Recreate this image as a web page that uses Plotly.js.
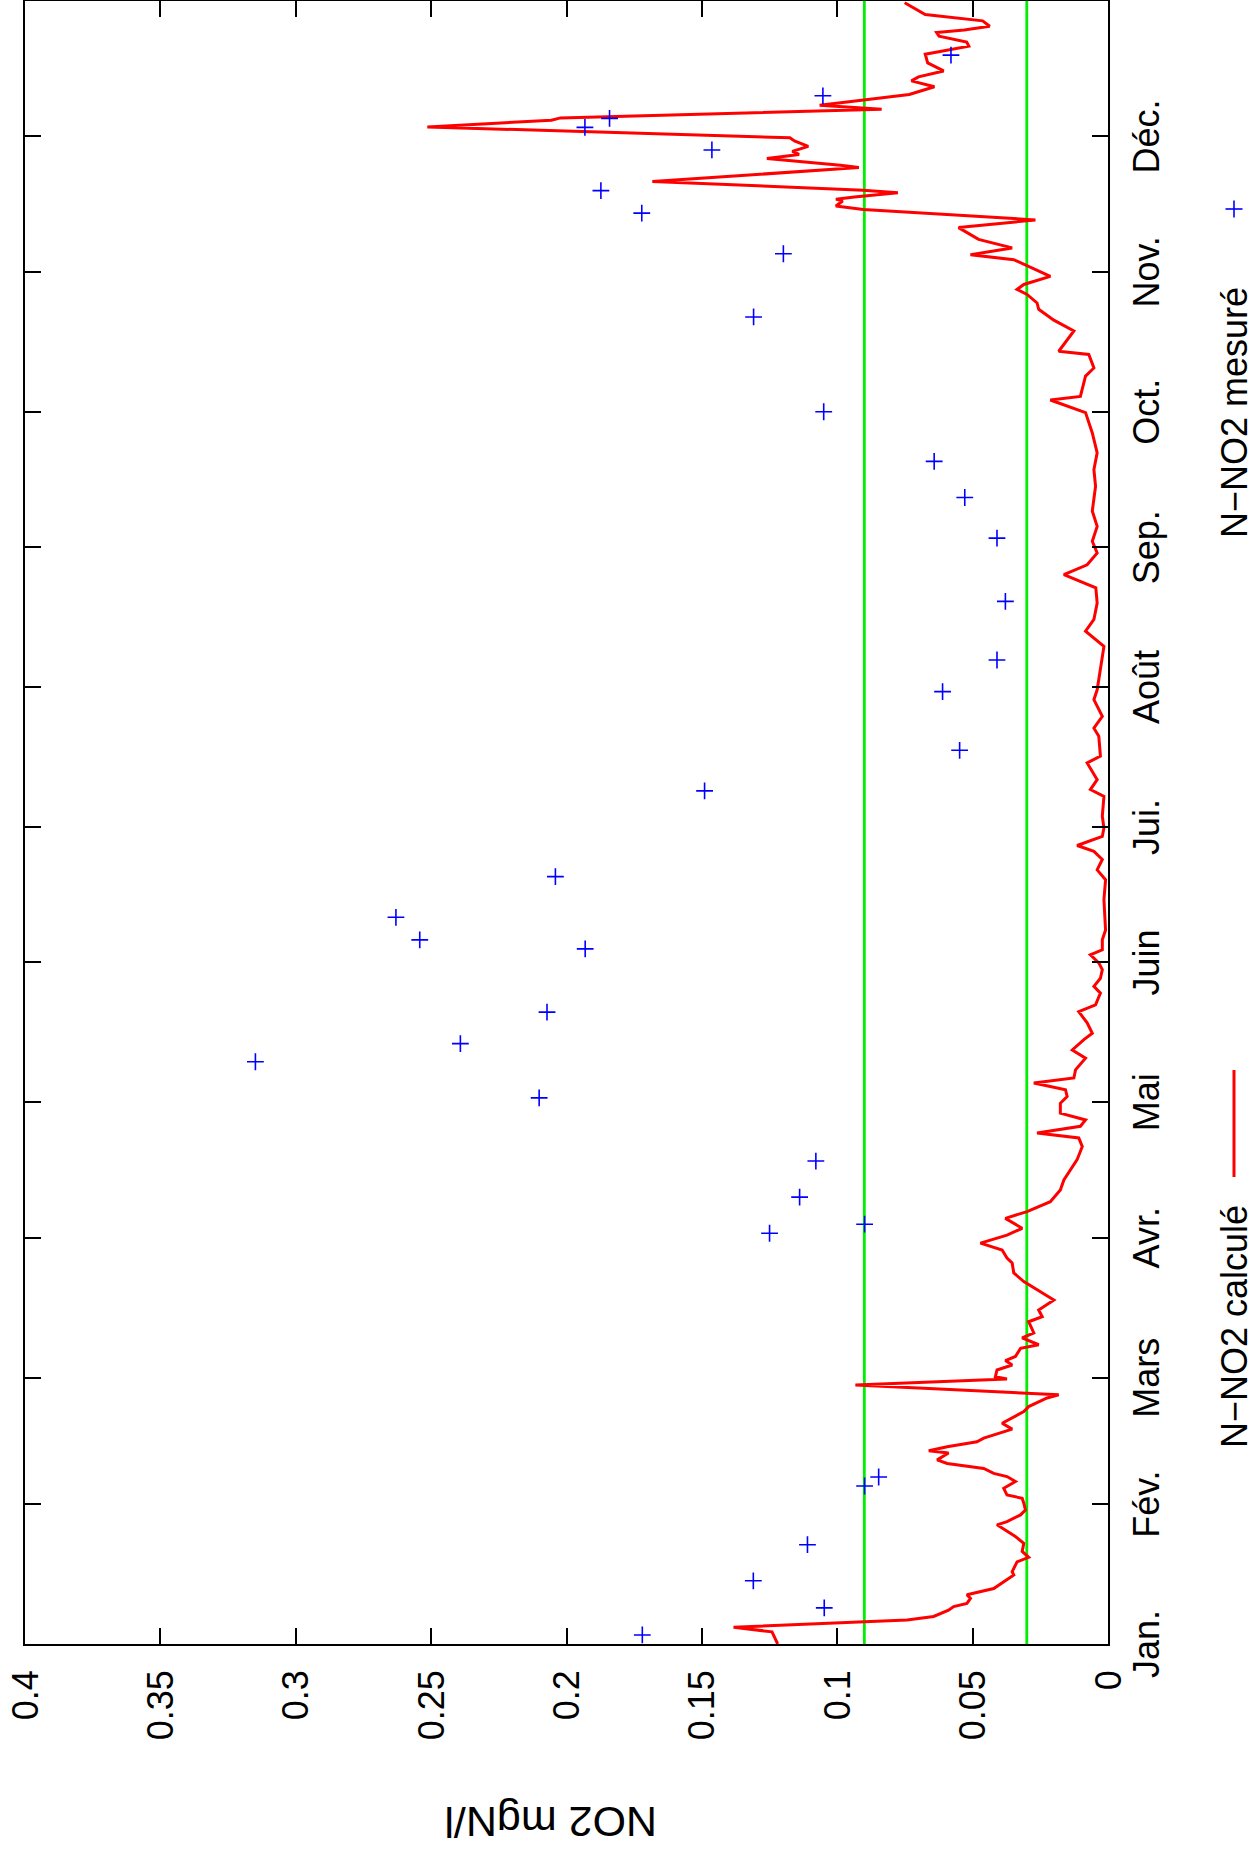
<!DOCTYPE html>
<html>
<head>
<meta charset="utf-8">
<script src="https://cdn.plot.ly/plotly-3.0.1.min.js"></script>
<style>
  html, body { margin: 0; padding: 0; background: #fff; overflow: hidden; }
  /* The chart is laid out in landscape and turned a quarter turn counter-clockwise */
  #chart {
    position: absolute; left: 0; top: 0;
    width: 1854px; height: 1257px;
    transform-origin: 0 0;
    transform: translate(0px, 1854px) rotate(-90deg);
  }
</style>
</head>
<body>
<div id="chart"></div>
<script>
// Month starts (day of year, 1 January = 0) and their labels
const monthStart  = [0, 31, 59, 90, 120, 151, 181, 212, 243, 273, 304, 334];
const monthLabels = ['Jan.', 'Fév.', 'Mars', 'Avr.', 'Mai', 'Juin', 'Jui.', 'Août', 'Sep.', 'Oct.', 'Nov.', 'Déc.'];

// Concentration axis ticks
const valueTicks  = [0, 0.05, 0.1, 0.15, 0.2, 0.25, 0.3, 0.35, 0.4];
const valueLabels = ['0', '0.05', '0.1', '0.15', '0.2', '0.25', '0.3', '0.35', '0.4'];
const valueTitle  = 'NO2 mgN/l';

// Reference levels (mgN/l)
const thresholds = [0.09, 0.03];

// Simulated N-NO2 (day of year, mgN/l)
const calcDay = [
  0, 1.6, 2.7, 3.7, 4.8, 5.3, 6.1, 7.5, 8.3, 9.0, 10.1, 10.9, 12.3, 13.8, 15.3, 16.0, 18.2, 19.2, 20.5, 22.3,
  23.8, 26.4, 27.1, 28.6, 29.7, 31.2, 32.3, 33.0, 34.5, 36.0, 37.1, 37.8, 38.9, 40.0, 40.8, 42.3, 42.8, 43.7, 44.8, 45.6,
  47.1, 47.6, 48.9, 51.5, 52.6, 54.5, 55.2, 57.4, 58.7, 59.2, 60.7, 61.8, 62.8, 63.7, 65.5, 66.3, 67.8, 68.9, 71.4, 72.5,
  74.0, 76.2, 80.3, 82.2, 84.4, 85.5, 87.3, 88.8, 90.6, 92.1, 94.3, 95.8, 98.0, 100.6, 102.8, 107.3, 110.2, 112.1, 113.2, 114.7,
  116.1, 117.6, 119.8, 121.3, 122.8, 124.3, 125.4, 127.2, 129.8, 131.6, 133.9, 135.3, 137.6, 140.1, 141.6, 144.2, 145.7, 147.5, 149.4, 150.9,
  152.7, 153.8, 156.0, 158.2, 164.9, 169.3, 171.5, 173.8, 175.6, 176.9, 178.9, 180.8, 183.4, 187.8, 189.3, 191.5, 195.2, 196.7, 201.1, 202.9,
  205.5, 209.2, 211.4, 215.9, 221.0, 224.4, 227.0, 230.6, 234.0, 236.9, 239.1, 241.7, 244.3, 247.6, 251.0, 256.5, 260.2, 263.9, 268.3, 272.8,
  275.6, 276.4, 277.9, 280.9, 282.7, 285.7, 286.4, 288.3, 290.9, 293.3, 295.7, 297.1, 299.0, 300.1, 301.2, 303.0, 304.5, 306.7, 307.8, 309.3,
  311.2, 313.8, 315.5, 317.8, 318.6, 319.7, 320.1, 320.6, 321.5, 322.1, 324.0, 327.1, 327.6, 328.2, 329.1, 330.0, 330.7, 331.8, 333.0, 333.7,
  336.1, 337.6, 338.1, 340.0, 340.9, 342.2, 343.3, 345.0, 346.3, 347.2, 348.5, 350.3, 352.2, 354.0, 354.9, 356.2, 357.0, 357.6, 358.4, 359.6,
  360.3, 361.0, 363.6
];
const calcNO2 = [
  0.122, 0.1233, 0.1241, 0.1383, 0.0903, 0.0742, 0.0644, 0.0589, 0.057, 0.0521, 0.0508, 0.0521, 0.0422, 0.0385, 0.0348, 0.0354, 0.0336, 0.0293, 0.0317, 0.0311,
  0.0342, 0.041, 0.0373, 0.0323, 0.0305, 0.0311, 0.0317, 0.0373, 0.0385, 0.0342, 0.0373, 0.0422, 0.0459, 0.0594, 0.0631, 0.0589, 0.0662, 0.0594, 0.0484, 0.0459,
  0.0385, 0.0354, 0.0391, 0.0311, 0.0293, 0.0225, 0.0182, 0.0933, 0.0373, 0.0416, 0.041, 0.0354, 0.0379, 0.0342, 0.0323, 0.0256, 0.0317, 0.0274, 0.0293, 0.0243,
  0.0256, 0.02, 0.0311, 0.0348, 0.0354, 0.0373, 0.0391, 0.0471, 0.0373, 0.0317, 0.0379, 0.0299, 0.0213, 0.0176, 0.0163, 0.0114, 0.0095, 0.0108, 0.0262, 0.0102,
  0.0083, 0.0176, 0.0176, 0.0151, 0.0157, 0.0274, 0.0126, 0.012, 0.0083, 0.0132, 0.0089, 0.0058, 0.0077, 0.0108, 0.0046, 0.0028, 0.0052, 0.0028, 0.0021, 0.0034,
  0.0065, 0.0021, 0.0021, 0.0009, 0.0015, 0.0009, 0.004, 0.0021, 0.0052, 0.0114, 0.0021, 0.0015, 0.0021, 0.0015, 0.0065, 0.004, 0.0077, 0.0028, 0.0034, 0.0052,
  0.0021, 0.0052, 0.004, 0.0028, 0.0015, 0.0083, 0.0052, 0.004, 0.0045, 0.0163, 0.0077, 0.004, 0.0058, 0.004, 0.0058, 0.0046, 0.0052, 0.004, 0.0058, 0.0083,
  0.0213, 0.0102, 0.0095, 0.0083, 0.0052, 0.0071, 0.0182, 0.0157, 0.0126, 0.02, 0.0256, 0.0262, 0.0299, 0.0336, 0.0311, 0.0213, 0.0268, 0.0348, 0.0508, 0.0354,
  0.0478, 0.0552, 0.0268, 0.0904, 0.1005, 0.098, 0.1005, 0.0937, 0.0776, 0.0904, 0.1683, 0.092, 0.0988, 0.109, 0.126, 0.1141, 0.1166, 0.1107, 0.1158, 0.1175,
  0.2514, 0.2056, 0.2022, 0.0836, 0.1065, 0.0887, 0.0734, 0.0641, 0.0726, 0.07, 0.0607, 0.0666, 0.0675, 0.0514, 0.0522, 0.0624, 0.0633, 0.0531, 0.0437, 0.0463,
  0.0581, 0.0675, 0.0751
];

// Measured N-NO2 samples (day of year, mgN/l)
const mesDay = [2, 8, 14, 22, 35, 37, 91, 93, 99, 107, 121, 129, 133, 140, 154, 156, 161, 170, 189, 198,
                211, 218, 231, 245, 254, 262, 273, 294, 308, 317, 322, 331, 336, 338, 343, 352];
const mesNO2 = [0.172, 0.1048, 0.131, 0.111, 0.0899, 0.0847, 0.125, 0.0899, 0.1139, 0.1079, 0.2101, 0.3149, 0.2392, 0.2072, 0.1931, 0.2542, 0.263, 0.2041, 0.149, 0.0548,
                0.0611, 0.041, 0.0379, 0.041, 0.0529, 0.0642, 0.105, 0.1309, 0.1199, 0.1722, 0.1873, 0.1463, 0.1932, 0.1841, 0.1053, 0.058];

const seriesNames = ['N\u2212NO2 calculé', 'N\u2212NO2 mesuré'];

// Landscape frame geometry (px)
const W = 1854, H = 1257;
const M = {l: 210, r: 1, t: 25, b: 149};
const plotW = W - M.l - M.r, plotH = H - M.t - M.b;
const px = X => (X - M.l) / plotW;          // horizontal pixel -> paper
const py = Y => (H - M.b - Y) / plotH;      // vertical pixel -> paper

const FONT = 'Liberation Sans, Arial, Helvetica, sans-serif';
const RED_W = 3, GREEN_W = 2.8, PLUS_W = 1.6;

const traces = [
  {
    x: calcDay, y: calcNO2, type: 'scatter', mode: 'lines', name: seriesNames[0],
    line: {color: '#ff0000', width: RED_W}
  },
  {
    x: mesDay, y: mesNO2, type: 'scatter', mode: 'markers', name: seriesNames[1],
    marker: {symbol: 'cross-thin', size: 12, color: '#0000ff', line: {color: '#0000ff', width: PLUS_W}}
  }
];

const shapes = thresholds.map(t => ({
  type: 'line', xref: 'paper', yref: 'y', x0: 0, x1: 1, y0: t, y1: t,
  line: {color: '#00ee00', width: GREEN_W}, layer: 'below'
}));

// Key below the frame: label first, then its sample
const keyY = 1234;
shapes.push({type: 'line', xref: 'paper', yref: 'paper',
  x0: px(677), x1: px(784), y0: py(keyY), y1: py(keyY),
  line: {color: '#ff0000', width: RED_W}});
const plusX = 1645, plusR = 8.5;
shapes.push({type: 'line', xref: 'paper', yref: 'paper',
  x0: px(plusX - plusR), x1: px(plusX + plusR), y0: py(keyY), y1: py(keyY),
  line: {color: '#0000ff', width: PLUS_W}});
shapes.push({type: 'line', xref: 'paper', yref: 'paper',
  x0: px(plusX), x1: px(plusX), y0: py(keyY - plusR), y1: py(keyY + plusR),
  line: {color: '#0000ff', width: PLUS_W}});

const annotations = [
  {text: seriesNames[0], xref: 'paper', yref: 'paper', x: px(650), y: py(keyY),
   xanchor: 'right', yanchor: 'middle', showarrow: false, borderpad: 0,
   font: {family: FONT, size: 36, color: '#000'}},
  {text: seriesNames[1], xref: 'paper', yref: 'paper', x: px(1568), y: py(keyY),
   xanchor: 'right', yanchor: 'middle', showarrow: false, borderpad: 0,
   font: {family: FONT, size: 36, color: '#000'}},
  // Concentration axis title, left of the tick labels
  {text: valueTitle, xref: 'paper', yref: 'paper', x: px(32), y: py(551),
   xanchor: 'center', yanchor: 'middle', textangle: -90, showarrow: false, borderpad: 0,
   font: {family: FONT, size: 43, color: '#000'}}
];

const axisCommon = {
  showline: true, linecolor: '#000', linewidth: 2, mirror: 'ticks',
  ticks: 'inside', ticklen: 16, tickwidth: 2, tickcolor: '#000',
  showgrid: false, zeroline: false, tickmode: 'array',
  tickfont: {family: FONT, size: 36, color: '#000'}
};

const layout = {
  width: W, height: H, margin: M,
  paper_bgcolor: '#fff', plot_bgcolor: '#fff',
  showlegend: false,
  font: {family: FONT, size: 36, color: '#000'},
  xaxis: Object.assign({}, axisCommon, {
    range: [0, 364], tickvals: monthStart, ticktext: monthLabels, ticklabelstandoff: 6
  }),
  yaxis: Object.assign({}, axisCommon, {
    range: [0, 0.4], tickvals: valueTicks, ticktext: valueLabels, ticklabelstandoff: 17
  }),
  shapes: shapes,
  annotations: annotations
};

Plotly.newPlot('chart', traces, layout, {displayModeBar: false, staticPlot: true});
</script>
</body>
</html>
